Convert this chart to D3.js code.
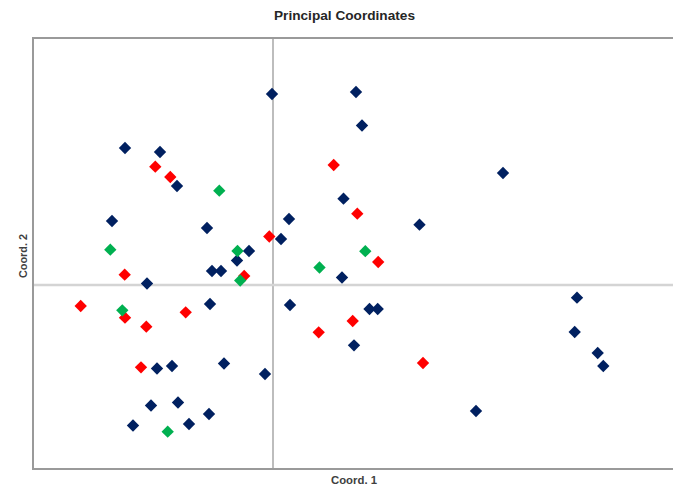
<!DOCTYPE html>
<html>
<head>
<meta charset="utf-8">
<script src="https://cdn.jsdelivr.net/npm/d3@7"></script>
<style>
  html, body { margin: 0; padding: 0; background: #fff; }
  svg { display: block; }
</style>
</head>
<body>
<svg id="chart" width="673" height="485"></svg>
<script>
// Principal coordinates scores, grouped by sample group
const groupA = [ // navy
  [-0.01, 1.91], [-1.48, 1.37], [-1.13, 1.33], [-0.96, 0.99], [-1.61, 0.64],
  [-0.66, 0.57], [0.16, 0.66], [0.08, 0.46], [-0.24, 0.34], [-0.36, 0.245],
  [-0.61, 0.14], [-0.52, 0.14], [-1.26, 0.015], [-0.63, -0.19], [0.17, -0.20],
  [-1.16, -0.835], [-1.01, -0.81], [-0.49, -0.785], [-0.08, -0.89], [-1.22, -1.205],
  [-0.95, -1.175], [-0.64, -1.29], [-1.40, -1.405], [-0.84, -1.39], [0.69, 0.075],
  [0.83, 1.93], [0.89, 1.595], [2.30, 1.12], [0.705, 0.863], [1.465, 0.603],
  [0.965, -0.24], [1.047, -0.24], [0.81, -0.603], [3.04, -0.127], [3.017, -0.47],
  [3.247, -0.68], [3.303, -0.81], [2.03, -1.26]
];
const groupB = [ // red
  [-1.177, 1.183], [-1.027, 1.08], [-0.037, 0.485], [0.607, 1.20], [0.843, 0.713],
  [1.052, 0.23], [-1.483, 0.103], [-0.288, 0.09], [-1.923, -0.21], [-1.48, -0.327],
  [-1.267, -0.417], [-0.873, -0.273], [-1.32, -0.823], [0.457, -0.473], [0.797, -0.36],
  [1.50, -0.78]
];
const groupC = [ // green
  [-0.537, 0.943], [-1.627, 0.353], [-0.355, 0.34], [-0.328, 0.045], [-1.507, -0.253],
  [-1.053, -1.467], [0.465, 0.175], [0.923, 0.338]
];

const xDomain = [-2.4, 4.02];
const yDomain = [-1.84, 2.47];
const titleText = "Principal Coordinates";
const xLabel = "Coord. 1";
const yLabel = "Coord. 2";

const series = [
  { name: "A", values: groupA, color: "#002060" },
  { name: "B", values: groupB, color: "#ff0000" },
  { name: "C", values: groupC, color: "#00b050" }
];

const svg = d3.select("#chart");
const plot = { left: 33, right: 675, top: 38, bottom: 469 };

const x = d3.scaleLinear().domain(xDomain).range([plot.left, plot.right]);
const y = d3.scaleLinear().domain(yDomain).range([plot.bottom, plot.top]);

// zero reference lines
svg.append("line")
  .attr("x1", x(0)).attr("x2", x(0))
  .attr("y1", plot.top).attr("y2", plot.bottom)
  .attr("stroke", "#bdbdbd").attr("stroke-width", 2);
svg.append("line")
  .attr("x1", plot.left).attr("x2", plot.right)
  .attr("y1", y(0)).attr("y2", y(0))
  .attr("stroke", "#d4d4d4").attr("stroke-width", 2.5);

// plot frame (left, top, bottom)
const frame = d3.path();
frame.moveTo(plot.right, plot.top);
frame.lineTo(plot.left, plot.top);
frame.lineTo(plot.left, plot.bottom);
frame.lineTo(plot.right, plot.bottom);
svg.append("path")
  .attr("d", frame.toString())
  .attr("fill", "none")
  .attr("stroke", "#9a9a9a")
  .attr("stroke-width", 2);

// diamond markers
const diamond = d3.symbol().type(d3.symbolSquare).size(76);
series.forEach(s => {
  svg.append("g").selectAll("path")
    .data(s.values)
    .join("path")
    .attr("d", diamond)
    .attr("transform", d => `translate(${x(d[0])},${y(d[1])}) rotate(45)`)
    .attr("fill", s.color);
});

// texts
svg.append("text")
  .attr("x", 344.5).attr("y", 20)
  .attr("text-anchor", "middle")
  .attr("font-family", "Liberation Sans, Arial, sans-serif")
  .attr("font-weight", "bold")
  .attr("font-size", 12.5)
  .attr("textLength", 141)
  .attr("lengthAdjust", "spacingAndGlyphs")
  .attr("fill", "#262626")
  .text(titleText);

svg.append("text")
  .attr("x", 354).attr("y", 484)
  .attr("text-anchor", "middle")
  .attr("font-family", "Liberation Sans, Arial, sans-serif")
  .attr("font-weight", "bold")
  .attr("font-size", 10)
  .attr("textLength", 46)
  .attr("lengthAdjust", "spacingAndGlyphs")
  .attr("fill", "#404040")
  .text(xLabel);

svg.append("text")
  .attr("transform", "translate(27,256) rotate(-90)")
  .attr("text-anchor", "middle")
  .attr("font-family", "Liberation Sans, Arial, sans-serif")
  .attr("font-weight", "bold")
  .attr("font-size", 10)
  .attr("textLength", 44)
  .attr("lengthAdjust", "spacingAndGlyphs")
  .attr("fill", "#404040")
  .text(yLabel);
</script>
</body>
</html>
